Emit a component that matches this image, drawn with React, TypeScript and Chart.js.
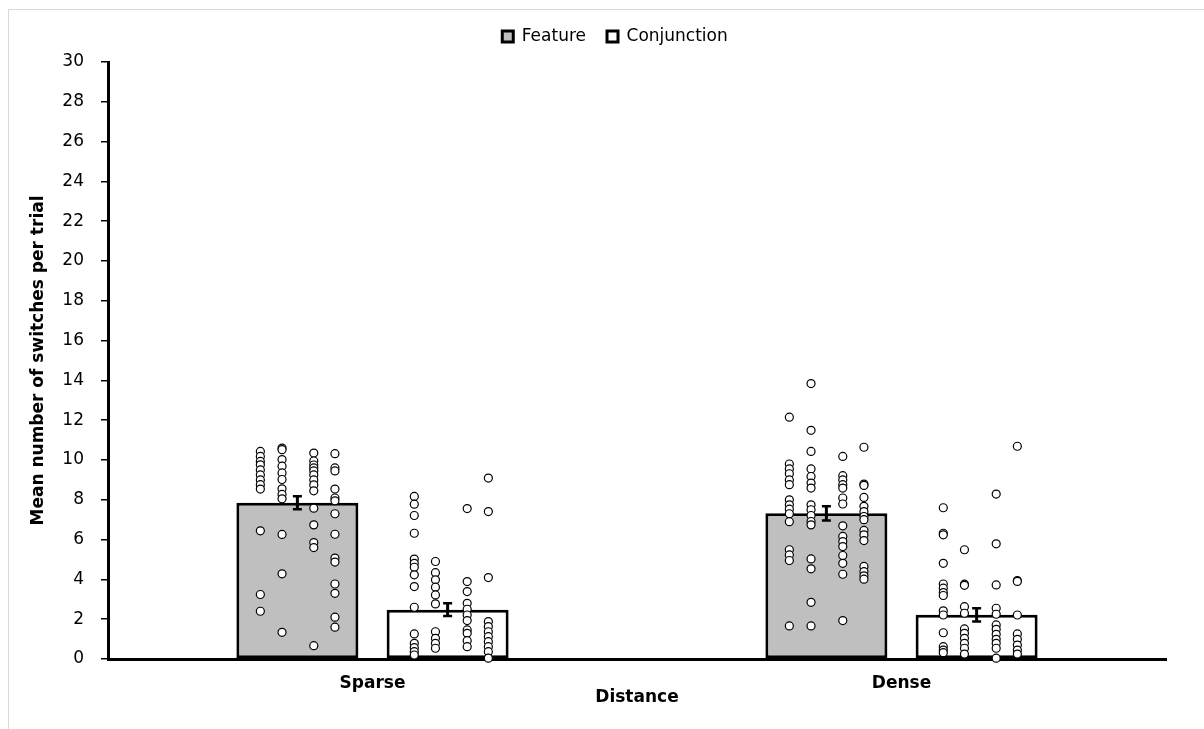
import React, { useEffect, useRef } from 'react';
import { Chart, registerables } from 'chart.js';

Chart.register(...registerables);

// ---------- data ----------
const categories = ['Sparse', 'Dense'];
const seriesNames = ['Feature', 'Conjunction'];
const featureMeans = [7.85, 7.32];
const conjunctionMeans = [2.48, 2.22];
const featureErrors = [0.33, 0.36];
const conjunctionErrors = [0.32, 0.33];
const yMin = 0;
const yMax = 30;
const yStep = 2;

// horizontal positions (in category units from the category start) of the 4 dot columns per bar
const featureColumns = [0.288, 0.329, 0.389, 0.429];
const conjunctionColumns = [0.579, 0.619, 0.679, 0.719];

// individual values, one list per dot column
const sparseFeatureDots = [
  [10.43, 10.18, 9.93, 9.76, 9.5, 9.25, 9.0, 8.76, 8.54, 6.44, 3.24, 2.4],
  [10.6, 10.52, 10.02, 9.69, 9.35, 9.02, 8.55, 8.27, 8.05, 6.26, 4.28, 1.34],
  [10.35, 9.95, 9.75, 9.6, 9.45, 9.25, 9.0, 8.75, 8.45, 7.58, 6.74, 5.85, 5.6, 0.67],
  [10.32, 9.6, 9.45, 8.54, 8.09, 7.95, 7.3, 6.27, 5.07, 4.87, 3.77, 3.3, 2.1, 1.6],
];
const sparseConjunctionDots = [
  [8.17, 7.78, 7.21, 6.32, 5.02, 4.81, 4.61, 4.23, 3.64, 2.6, 1.26, 0.79, 0.57, 0.37, 0.2],
  [4.9, 4.34, 3.98, 3.61, 3.22, 2.77, 1.37, 1.04, 0.79, 0.54],
  [7.56, 3.89, 3.39, 2.8, 2.5, 2.21, 1.93, 1.46, 1.29, 0.92, 0.62],
  [9.09, 7.41, 4.09, 1.88, 1.63, 1.37, 1.12, 0.87, 0.62, 0.37, 0.04],
];
const denseFeatureDots = [
  [12.15, 9.8, 9.55, 9.31, 9.0, 8.76, 8.0, 7.75, 7.53, 7.3, 6.9, 5.49, 5.23, 4.95, 1.66],
  [13.84, 11.49, 10.43, 9.55, 9.17, 8.84, 8.59, 7.75, 7.5, 7.21, 6.91, 6.74, 5.03, 4.53, 2.85, 1.66],
  [10.18, 9.21, 9.0, 8.76, 8.59, 8.09, 7.79, 6.69, 6.16, 5.9, 5.65, 5.2, 4.81, 4.26, 1.93],
  [10.64, 8.79, 8.72, 8.12, 7.67, 7.41, 7.16, 7.0, 6.46, 6.24, 5.95, 4.65, 4.39, 4.18, 4.01],
];
const denseConjunctionDots = [
  [7.6, 6.32, 6.24, 4.81, 3.77, 3.56, 3.34, 3.19, 2.42, 2.21, 1.32, 0.62, 0.45, 0.32],
  [5.49, 3.76, 3.7, 2.63, 2.3, 1.51, 1.29, 1.04, 0.79, 0.54, 0.25],
  [8.29, 5.79, 3.72, 2.55, 2.25, 1.71, 1.49, 1.24, 0.99, 0.79, 0.54, 0.04],
  [10.69, 3.94, 3.9, 2.21, 1.26, 0.99, 0.7, 0.45, 0.25],
];

const FONT = 'DejaVu Sans';
const W = 1204;
const H = 729;

function toPoints(catIndex: number, columns: number[], dots: number[][]) {
  const pts: { x: number; y: number }[] = [];
  dots.forEach((col, j) => {
    col.forEach((v) => pts.push({ x: catIndex + columns[j], y: v }));
  });
  return pts;
}

const errorBarPlugin = {
  id: 'errorBars',
  afterDatasetDraw(chart: any, args: any) {
    const ds = chart.data.datasets[args.index] as any;
    if (!ds.errors) return;
    const yScale = chart.scales.y;
    const ctx = chart.ctx;
    ctx.save();
    ctx.strokeStyle = '#000';
    args.meta.data.forEach((bar: any, i: number) => {
      const v = ds.data[i];
      const e = ds.errors[i];
      const top = yScale.getPixelForValue(v + e);
      const bot = yScale.getPixelForValue(v - e);
      const x = bar.x;
      ctx.lineWidth = 3;
      ctx.beginPath();
      ctx.moveTo(x, top);
      ctx.lineTo(x, bot);
      ctx.stroke();
      ctx.lineWidth = 2.5;
      ctx.beginPath();
      ctx.moveTo(x - 4.5, top);
      ctx.lineTo(x + 4.5, top);
      ctx.moveTo(x - 4.5, bot);
      ctx.lineTo(x + 4.5, bot);
      ctx.stroke();
    });
    ctx.restore();
  },
};

export default function App() {
  const barRef = useRef<HTMLCanvasElement>(null);
  const dotRef = useRef<HTMLCanvasElement>(null);

  useEffect(() => {
    if (!barRef.current || !dotRef.current) return;
    const barStyle = {
      borderColor: '#000000',
      borderWidth: 3,
      borderSkipped: false,
      categoryPercentage: 0.568,
      barPercentage: 0.812,
    };
    const barChart = new Chart(barRef.current, {
      type: 'bar',
      data: {
        labels: categories,
        datasets: [
          {
            ...barStyle,
            label: seriesNames[0],
            data: featureMeans,
            errors: featureErrors,
            backgroundColor: '#bfbfbf',
          } as any,
          {
            ...barStyle,
            label: seriesNames[1],
            data: conjunctionMeans,
            errors: conjunctionErrors,
            backgroundColor: '#ffffff',
          } as any,
        ],
      },
      options: {
        responsive: false,
        animation: false,
        devicePixelRatio: 1,
        layout: { padding: { top: 7, left: 26, right: 0, bottom: 10 } },
        plugins: {
          legend: {
            position: 'top',
            weight: 1000,
            labels: {
              boxWidth: 11,
              boxHeight: 11,
              padding: 21,
              color: '#000',
              font: { family: FONT, size: 17 },
            },
          },
          title: {
            display: true,
            text: ' ',
            position: 'top',
            weight: 500,
            font: { size: 1, lineHeight: 1 },
            padding: { top: 6, bottom: 0 },
          },
          tooltip: { enabled: false },
        },
        scales: {
          x: {
            type: 'category',
            position: 'bottom',
            grid: { display: false, drawTicks: false },
            border: { display: true, color: '#000', width: 3 },
            ticks: {
              padding: 14,
              color: '#000',
              font: { family: FONT, size: 17, weight: 'bold' },
            },
            title: {
              display: true,
              text: 'Distance',
              color: '#000',
              font: { family: FONT, size: 17, weight: 'bold' },
              padding: { top: 0, bottom: 11 },
            },
            afterFit: (s: any) => {
              s.height = 60;
            },
          },
          y: {
            type: 'linear',
            min: yMin,
            max: yMax,
            ticks: {
              stepSize: yStep,
              padding: 17,
              color: '#000',
              font: { family: FONT, size: 17 },
            },
            grid: {
              drawOnChartArea: false,
              drawTicks: true,
              tickLength: 7,
              color: '#000',
              lineWidth: 1.5,
            },
            border: { display: true, color: '#000', width: 3 },
            title: {
              display: true,
              text: 'Mean number of switches per trial',
              color: '#000',
              font: { family: FONT, size: 17, weight: 'bold' },
              padding: { top: 2, bottom: 0 },
            },
            afterFit: (s: any) => {
              s.width = 82;
            },
          },
          yRight: {
            type: 'linear',
            position: 'right',
            display: true,
            ticks: { display: false },
            grid: { display: false, drawTicks: false },
            border: { display: false },
            afterFit: (s: any) => {
              s.width = 38;
            },
          },
        },
      } as any,
      plugins: [errorBarPlugin],
    });

    // individual points, drawn on an overlay chart that shares the same plot area
    const area = barChart.chartArea;
    const dotStyle = {
      backgroundColor: '#ffffff',
      borderColor: '#000000',
      borderWidth: 1.2,
      pointRadius: 4,
      showLine: false,
      clip: false,
    };
    const dotChart = new Chart(dotRef.current, {
      type: 'scatter',
      data: {
        datasets: [
          {
            ...dotStyle,
            label: 'Feature points',
            data: [
              ...toPoints(0, featureColumns, sparseFeatureDots),
              ...toPoints(1, featureColumns, denseFeatureDots),
            ],
          } as any,
          {
            ...dotStyle,
            label: 'Conjunction points',
            data: [
              ...toPoints(0, conjunctionColumns, sparseConjunctionDots),
              ...toPoints(1, conjunctionColumns, denseConjunctionDots),
            ],
          } as any,
        ],
      },
      options: {
        responsive: false,
        animation: false,
        devicePixelRatio: 1,
        layout: {
          padding: {
            left: area.left,
            top: area.top,
            right: W - area.right,
            bottom: H - area.bottom,
          },
        },
        plugins: { legend: { display: false }, tooltip: { enabled: false } },
        scales: {
          x: { type: 'linear', display: false, offset: false, min: 0, max: categories.length },
          y: { type: 'linear', display: false, min: yMin, max: yMax },
        },
      } as any,
    });

    return () => {
      dotChart.destroy();
      barChart.destroy();
    };
  }, []);

  return (
    <div
      style={{
        position: 'fixed',
        left: 0,
        top: 0,
        width: W,
        height: H,
        background: '#ffffff',
        overflow: 'hidden',
      }}
    >
      <div
        style={{
          position: 'absolute',
          left: 8,
          top: 9,
          right: 0,
          bottom: 0,
          borderTop: '1px solid #d9d9d9',
          borderLeft: '1px solid #d9d9d9',
        }}
      />
      <canvas
        ref={barRef}
        width={W}
        height={H}
        style={{ position: 'absolute', left: 0, top: 0, width: W, height: H }}
      />
      <canvas
        ref={dotRef}
        width={W}
        height={H}
        style={{ position: 'absolute', left: 0, top: 0, width: W, height: H, pointerEvents: 'none' }}
      />
    </div>
  );
}
